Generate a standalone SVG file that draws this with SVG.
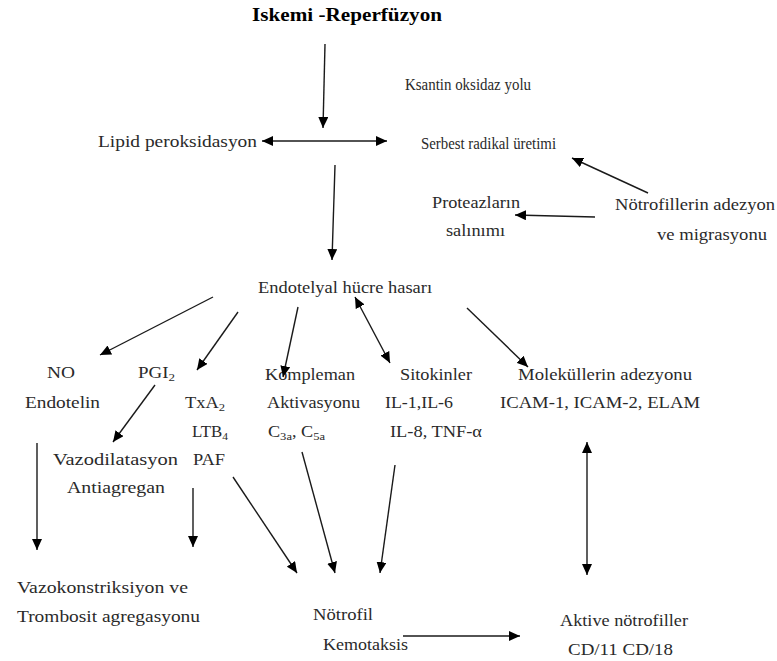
<svg xmlns="http://www.w3.org/2000/svg" width="777" height="661" viewBox="0 0 777 661">
<style>
text{font-family:"Liberation Serif","DejaVu Serif","Times New Roman",serif;font-size:16px;fill:#2a2a2a}
.title{font-weight:bold;font-size:19px;fill:#000}
.big{font-size:17px}
.conn line{stroke:#1a1a1a;stroke-width:1.4;fill:none;marker-end:url(#ah)}
.conn line.bi{marker-start:url(#ah)}
.sub{font-size:11px}
</style>
<defs>
<marker id="ah" markerUnits="userSpaceOnUse" markerWidth="12" markerHeight="10" refX="11" refY="5" orient="auto-start-reverse">
<path d="M0,0 L11,5 L0,10 z" fill="#000"/>
</marker>
</defs>
<rect width="777" height="661" fill="#fff"/>
<g id="title"><text class="title" x="252" y="21" textLength="190" lengthAdjust="spacingAndGlyphs">Iskemi -Reperfüzyon</text></g>
<g id="ksantin"><text x="405" y="90" textLength="126" lengthAdjust="spacingAndGlyphs">Ksantin oksidaz yolu</text></g>
<g id="lipid"><text x="98" y="147" textLength="159" lengthAdjust="spacingAndGlyphs">Lipid peroksidasyon</text></g>
<g id="serbest"><text x="421" y="149" textLength="135" lengthAdjust="spacingAndGlyphs">Serbest radikal üretimi</text></g>
<g id="proteaz"><text x="432" y="208" textLength="88" lengthAdjust="spacingAndGlyphs">Proteazların</text><text x="446" y="236" textLength="59" lengthAdjust="spacingAndGlyphs">salınımı</text></g>
<g id="notrofil-adezyon"><text x="615" y="210" textLength="160" lengthAdjust="spacingAndGlyphs">Nötrofillerin adezyon</text><text x="657" y="240" textLength="110" lengthAdjust="spacingAndGlyphs">ve migrasyonu</text></g>
<g id="endotel"><text x="258" y="293" textLength="174" lengthAdjust="spacingAndGlyphs">Endotelyal hücre hasarı</text></g>
<g id="no"><text x="47" y="378" textLength="28" lengthAdjust="spacingAndGlyphs">NO</text><text x="25" y="408" textLength="75" lengthAdjust="spacingAndGlyphs">Endotelin</text></g>
<g id="pgi2"><text x="138" y="378" textLength="37" lengthAdjust="spacingAndGlyphs">PGI<tspan class="sub" dy="3">2</tspan></text></g>
<g id="txa2"><text x="185" y="408" textLength="40" lengthAdjust="spacingAndGlyphs">TxA<tspan class="sub" dy="3">2</tspan></text><text x="192" y="437" textLength="36" lengthAdjust="spacingAndGlyphs">LTB<tspan class="sub" dy="3">4</tspan></text><text x="193" y="465" textLength="32" lengthAdjust="spacingAndGlyphs">PAF</text></g>
<g id="kompleman"><text x="265" y="380" textLength="90" lengthAdjust="spacingAndGlyphs">Kompleman</text><text x="267" y="408" textLength="93" lengthAdjust="spacingAndGlyphs">Aktivasyonu</text><text x="268" y="437" textLength="57" lengthAdjust="spacingAndGlyphs">C<tspan class="sub" dy="3">3a</tspan><tspan dy="-3">, C</tspan><tspan class="sub" dy="3">5a</tspan></text></g>
<g id="sitokin"><text x="400" y="380" textLength="72" lengthAdjust="spacingAndGlyphs">Sitokinler</text><text x="385" y="408" textLength="68" lengthAdjust="spacingAndGlyphs">IL-1,IL-6</text><text x="390" y="437" textLength="92" lengthAdjust="spacingAndGlyphs">IL-8, TNF-α</text></g>
<g id="molekul"><text x="518" y="380" textLength="174" lengthAdjust="spacingAndGlyphs">Moleküllerin adezyonu</text><text class="big" x="500" y="408" textLength="200" lengthAdjust="spacingAndGlyphs">ICAM-1, ICAM-2, ELAM</text></g>
<g id="vazodil"><text x="53" y="465" textLength="125" lengthAdjust="spacingAndGlyphs">Vazodilatasyon</text><text x="67" y="493" textLength="98" lengthAdjust="spacingAndGlyphs">Antiagregan</text></g>
<g id="vazokon"><text x="17" y="593" textLength="171" lengthAdjust="spacingAndGlyphs">Vazokonstriksiyon ve</text><text x="17" y="622" textLength="183" lengthAdjust="spacingAndGlyphs">Trombosit agregasyonu</text></g>
<g id="notrofil"><text x="313" y="620" textLength="60" lengthAdjust="spacingAndGlyphs">Nötrofil</text><text x="323" y="650" textLength="85" lengthAdjust="spacingAndGlyphs">Kemotaksis</text></g>
<g id="aktive"><text x="560" y="626" textLength="128" lengthAdjust="spacingAndGlyphs">Aktive nötrofiller</text><text x="568" y="655" textLength="105" lengthAdjust="spacingAndGlyphs">CD/11 CD/18</text></g>
<g id="connectors" class="conn">
<line x1="325" y1="44" x2="323" y2="128"/>
<line class="bi" x1="262" y1="141" x2="387" y2="141"/>
<line x1="335" y1="165" x2="332" y2="260"/>
<line x1="648" y1="193" x2="572" y2="158"/>
<line x1="595" y1="217" x2="515" y2="215"/>
<line x1="213" y1="297" x2="100" y2="355"/>
<line x1="238" y1="312" x2="197" y2="370"/>
<line x1="298" y1="307" x2="283" y2="377"/>
<line class="bi" x1="355" y1="297" x2="390" y2="363"/>
<line x1="467" y1="308" x2="528" y2="367"/>
<line x1="155" y1="385" x2="113" y2="442"/>
<line x1="37" y1="443" x2="37" y2="550"/>
<line x1="193" y1="488" x2="193" y2="547"/>
<line x1="233" y1="477" x2="297" y2="573"/>
<line x1="302" y1="452" x2="335" y2="573"/>
<line x1="395" y1="465" x2="380" y2="573"/>
<line class="bi" x1="587" y1="442" x2="587" y2="575"/>
<line x1="403" y1="636" x2="520" y2="636"/>
</g>
</svg>
